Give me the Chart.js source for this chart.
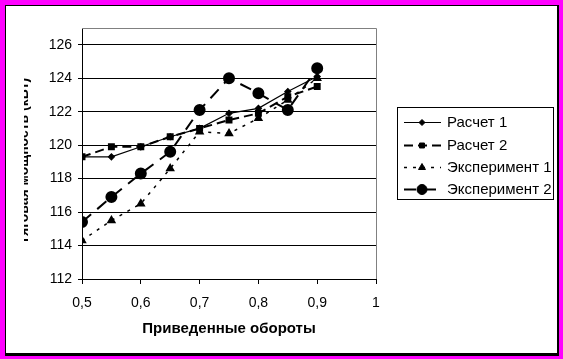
<!DOCTYPE html>
<html>
<head>
<meta charset="utf-8">
<script src="https://cdn.jsdelivr.net/npm/chart.js@4"></script>
<style>
  html, body { margin: 0; padding: 0; background: #ff00ff; }
  #box { width: 563px; height: 359px; }
</style>
</head>
<body>
<div id="box"><canvas id="myChart" width="563" height="359"></canvas></div>
<script>
var xValues = [0.5, 0.55, 0.6, 0.65, 0.7, 0.75, 0.8, 0.85, 0.9];
var raschet1 = [119.3, 119.3, 119.9, 120.5, 121.0, 121.9, 122.2, 123.2, 124.1];
var raschet2 = [119.3, 119.9, 119.9, 120.5, 121.0, 121.5, 121.9, 122.9, 123.5];
var eksp1 = [114.3, 115.5, 116.5, 118.6, 120.8, 120.7, 121.6, 122.7, 124.0];
var eksp2 = [115.4, 116.9, 118.3, 119.6, 122.1, 124.0, 123.1, 122.1, 124.6];
var yTicks = [112, 114, 116, 118, 120, 122, 124, 126];
var seriesNames = ['Расчет 1', 'Расчет 2', 'Эксперимент 1', 'Эксперимент 2'];
var xTitle = 'Приведенные обороты';
var yTitle = 'Тяговая мощность (кВт)';

function pts(arr) {
    var out = [];
    for (var i = 0; i < arr.length; i++) {
        out.push({x: xValues[i], y: arr[i]});
    }
    return out;
}

var font = 'Liberation Sans, Arial, sans-serif';

// background, frame, y title, legend
var decor = {
    id: 'decor',
    beforeDraw: function (chart) {
        var ctx = chart.ctx;
        ctx.save();
        ctx.fillStyle = '#ff00ff';
        ctx.fillRect(0, 0, 563, 359);
        ctx.fillStyle = '#000';
        ctx.fillRect(5, 5, 554, 351);
        ctx.fillStyle = '#fff';
        ctx.fillRect(6, 6, 551, 347);
        ctx.restore();
    },
    beforeDatasetsDraw: function (chart) {
        var ctx = chart.ctx, a = chart.chartArea;
        ctx.save();
        ctx.strokeStyle = '#808080';
        ctx.lineWidth = 1;
        ctx.beginPath();
        ctx.moveTo(a.left, a.top + 0.5);
        ctx.lineTo(a.right + 0.5, a.top + 0.5);
        ctx.lineTo(a.right + 0.5, a.bottom);
        ctx.stroke();
        ctx.restore();
    },
    afterDraw: function (chart) {
        var ctx = chart.ctx;
        // clipped y axis title
        ctx.save();
        ctx.beginPath();
        ctx.rect(24, 40, 12, 240);
        ctx.clip();
        ctx.translate(28, 161);
        ctx.rotate(-Math.PI / 2);
        ctx.fillStyle = '#000';
        ctx.font = 'bold 14px ' + font;
        ctx.textAlign = 'center';
        ctx.textBaseline = 'alphabetic';
        ctx.fillText(yTitle, 0, 0);
        ctx.restore();

        // legend
        ctx.save();
        ctx.strokeStyle = '#000';
        ctx.lineWidth = 1;
        ctx.strokeRect(397.5, 107.5, 156, 92);
        var rows = [122, 145, 167, 189];
        chart.data.datasets.forEach(function (ds, i) {
            var y = rows[i] + 0.5;
            ctx.save();
            ctx.strokeStyle = '#000';
            ctx.lineWidth = ds.borderWidth;
            ctx.setLineDash(ds.borderDash || []);
            ctx.beginPath();
            ctx.moveTo(404, y);
            ctx.lineTo(441, y);
            ctx.stroke();
            ctx.restore();
            Chart.helpers.drawPoint(ctx, {
                pointStyle: ds.pointStyle,
                radius: ds.pointRadius,
                borderWidth: 1
            }, 422, y);
            ctx.fillStyle = '#000';
            ctx.font = '15px ' + font;
            ctx.textAlign = 'left';
            ctx.textBaseline = 'middle';
            ctx.fillText(ds.label, 447, y);
        });
        ctx.restore();
    }
};

new Chart(document.getElementById('myChart'), {
    type: 'line',
    data: {
        datasets: [
            {
                label: seriesNames[0], data: pts(raschet1),
                borderColor: '#000', backgroundColor: '#000', borderWidth: 1.2,
                pointStyle: 'rectRot', pointRadius: 3
            },
            {
                label: seriesNames[1], data: pts(raschet2),
                borderColor: '#000', backgroundColor: '#000', borderWidth: 2,
                borderDash: [9, 5], pointStyle: 'rect', pointRadius: 3.5
            },
            {
                label: seriesNames[2], data: pts(eksp1),
                borderColor: '#000', backgroundColor: '#000', borderWidth: 1.5,
                borderDash: [3, 6], pointStyle: 'triangle', pointRadius: 4
            },
            {
                label: seriesNames[3], data: pts(eksp2),
                borderColor: '#000', backgroundColor: '#000', borderWidth: 2,
                borderDash: [12, 8], pointStyle: 'circle', pointRadius: 5
            }
        ]
    },
    options: {
        responsive: false,
        animation: false,
        layout: {padding: {left: 0, top: 28, right: 187, bottom: 20}},
        plugins: {
            legend: {display: false},
            tooltip: {enabled: false}
        },
        elements: {
            line: {tension: 0},
            point: {borderWidth: 1, borderColor: '#000', backgroundColor: '#000'}
        },
        scales: {
            x: {
                type: 'linear', min: 0.5, max: 1,
                afterFit: function (s) { s.height = 60; },
                ticks: {
                    stepSize: 0.1, color: '#000', padding: 11,
                    font: {family: font, size: 14},
                    callback: function (v) { return String(Math.round(v * 10) / 10).replace('.', ','); }
                },
                grid: {drawOnChartArea: false, tickLength: 5, color: '#000'},
                border: {color: '#000'},
                title: {
                    display: true, text: xTitle, color: '#000',
                    font: {family: font, size: 15, weight: 'bold'},
                    padding: {top: 4, bottom: 1}
                }
            },
            y: {
                min: 112, max: 127,
                afterFit: function (s) { s.width = 82; },
                afterBuildTicks: function (s) {
                    s.ticks = yTicks.map(function (v) { return {value: v}; });
                },
                ticks: {color: '#000', padding: 6, font: {family: font, size: 14}},
                grid: {color: '#000', tickLength: 4},
                border: {color: '#000'}
            }
        }
    },
    plugins: [decor]
});
</script>
</body>
</html>
